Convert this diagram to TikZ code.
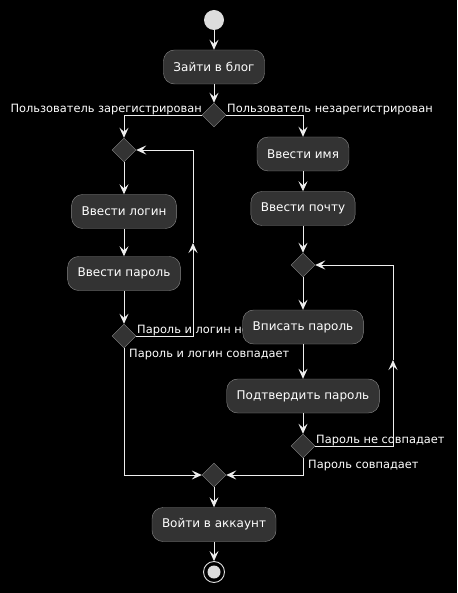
\documentclass[tikz,border=0pt]{standalone}
\usepackage{fontspec}
\setmainfont{DejaVu Sans}
\usepackage{xcolor}
\usetikzlibrary{arrows.meta,shapes.geometric}

\definecolor{boxfill}{HTML}{333333}
\definecolor{boxline}{HTML}{8A8A8A}
\definecolor{flowline}{HTML}{EEEEEE}
\definecolor{dotgrey}{HTML}{DDDDDD}

\tikzset{
  act/.style={rectangle, rounded corners=11pt, draw=boxline, fill=boxfill, text=white,
    font=\fontsize{12}{14}\selectfont, minimum height=34pt, inner xsep=10pt},
  dec/.style={diamond, draw=boxline, fill=boxfill, minimum width=24pt, minimum height=24pt, inner sep=0pt},
  lbl/.style={text=white, font=\fontsize{11.4}{13}\selectfont, inner sep=0pt},
  flow/.style={draw=flowline, line width=0.9pt, -{Stealth[length=10pt,width=9pt,inset=4pt]}},
  startdot/.style={circle, fill=dotgrey, minimum size=20pt, inner sep=0pt},
  enddot/.style={circle, draw=dotgrey, line width=0.9pt, fill=black, minimum size=21pt, inner sep=0pt,
    path picture={\fill[dotgrey] (path picture bounding box.center) circle (6.5pt);}}
}

\begin{document}
\begin{tikzpicture}[x=1pt, y=-1pt]
\fill[black] (0,0) rectangle (457,593);
\useasboundingbox (0,0) rectangle (457,593);

% Labels
\node[lbl, anchor=base east] (lreg) at (202,113) {Пользователь зарегистрирован};
\node[lbl, anchor=base west] (lunreg) at (227,113) {Пользователь незарегистрирован};
\node[lbl, anchor=base west] (lnot) at (137,333) {Пароль и логин не};
\node[lbl, anchor=base west] (lok) at (129,357) {Пароль и логин совпадает};
\node[lbl, anchor=base west] (pnot) at (316,443) {Пароль не совпадает};
\node[lbl, anchor=base west] (pok) at (308,468) {Пароль совпадает};

% Nodes
\node[startdot] (start) at (214,20) {};
\node[act] (blog) at (214,67) {Зайти в блог};
\node[dec] (d1) at (214,115) {};

\node[dec] (d2) at (124,150) {};
\node[act] (login) at (124,211.5) {Ввести логин};
\node[act] (pass) at (124,273.5) {Ввести пароль};
\node[dec] (d5) at (124,336) {};

\node[act] (name) at (303,154) {Ввести имя};
\node[act] (mail) at (303,208.5) {Ввести почту};
\node[dec] (d3) at (303,265) {};
\node[act] (write) at (303,327) {Вписать пароль};
\node[act] (confirm) at (303,396) {Подтвердить пароль};
\node[dec] (d4) at (303,446) {};

\node[dec] (merge) at (214,475) {};
\node[act] (enter) at (214,524.5) {Войти в аккаунт};
\node[enddot] (stop) at (214,572) {};

\coordinate (lmid) at (193,243);
\coordinate (rmid) at (393,360);

% Lines
\draw[flow] (start) -- (blog);
\draw[flow] (blog) -- (d1);
\draw[flow] (d1.west) -| (d2.north);
\draw[flow] (d1.east) -| (name.north);

\draw[flow] (d2) -- (login);
\draw[flow] (login) -- (pass);
\draw[flow] (pass) -- (d5);
\draw[flow] (d5.east) -| (lmid);
\draw[flow] (lmid) |- (d2.east);
\draw[flow] (d5.south) |- (merge.west);

\draw[flow] (name) -- (mail);
\draw[flow] (mail) -- (d3);
\draw[flow] (d3) -- (write);
\draw[flow] (write) -- (confirm);
\draw[flow] (confirm) -- (d4);
\draw[flow] (d4.east) -| (rmid);
\draw[flow] (rmid) |- (d3.east);
\draw[flow] (d4.south) |- (merge.east);

\draw[flow] (merge) -- (enter);
\draw[flow] (enter) -- (stop);
\end{tikzpicture}
\end{document}
